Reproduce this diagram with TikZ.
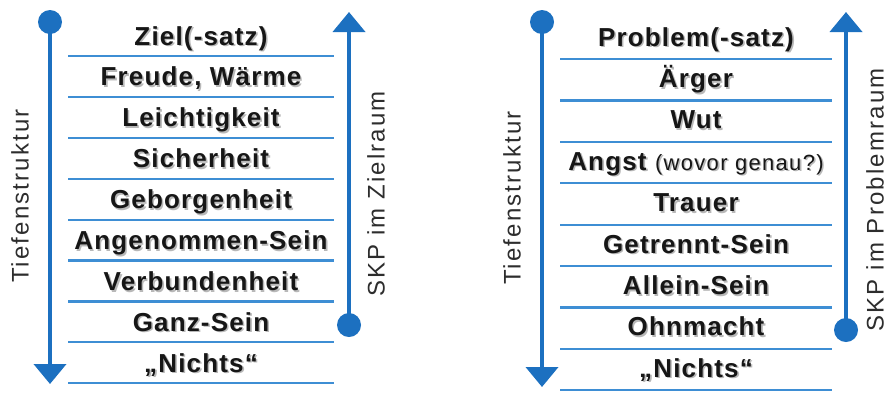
\documentclass[tikz,border=0pt]{standalone}
\usepackage{fontspec}
\setmainfont{Liberation Sans}
\usetikzlibrary{arrows.meta,calc}

\definecolor{axisblue}{RGB}{28,112,192}
\definecolor{ruleblue}{RGB}{62,142,212}
\definecolor{ink}{RGB}{22,22,22}
\definecolor{labelink}{RGB}{45,45,45}

% bold item text, slightly tracked out
\newcommand{\itemfont}{\fontsize{26}{30}\selectfont\bfseries\addfontfeature{LetterSpace=4.5}}
\newcommand{\notefont}{\fontsize{22}{26}\selectfont\mdseries\addfontfeature{LetterSpace=6}}
\newcommand{\sidefont}{\fontsize{24}{28}\selectfont\addfontfeature{LetterSpace=9}}

\tikzset{
  axis/.style={draw=axisblue, line width=4pt,
    -{Triangle[length=20pt,width=32pt]}},
  axisdot/.style={circle, fill=axisblue, inner sep=0pt, minimum size=24pt},
  rule/.style={draw=ruleblue, line width=2.2pt},
  itembox/.style={anchor=base, inner sep=0pt, text=ink, font=\itemfont},
  itemshadow/.style={anchor=base, inner sep=0pt, text=black, opacity=0.28, font=\itemfont},
  sidelabel/.style={rotate=90, inner sep=0pt, text=labelink, font=\sidefont},
}

% an item with a soft drop shadow
\newcommand{\stepitem}[3]{%
  \node[itemshadow] at ($(#2)+(1.6,1.6)$) {#3};
  \node[itembox] (#1) at (#2) {#3};}

\begin{document}
\begin{tikzpicture}[x=1pt,y=-1pt]
\useasboundingbox (0,0) rectangle (888,392);
\fill[white] (0,0) rectangle (888,392);

% ---------- left ladder: goal space ----------
\foreach \k in {0,...,8} {
  \draw[rule] (68,{56+40.9*\k}) -- (334,{56+40.9*\k});
}
\stepitem{z1}{201,45}{Ziel(-satz)}
\stepitem{z2}{201,85.9}{Freude, Wärme}
\stepitem{z3}{201,126.8}{Leichtigkeit}
\stepitem{z4}{201,167.7}{Sicherheit}
\stepitem{z5}{201,208.6}{Geborgenheit}
\stepitem{z6}{201,249.5}{Angenommen-Sein}
\stepitem{z7}{201,290.4}{Verbundenheit}
\stepitem{z8}{201,331.3}{Ganz-Sein}
\stepitem{z9}{201,372.2}{„Nichts“}

\node[axisdot] (ztop) at (50,22) {};
\coordinate (zdeep) at (50,384);
\draw[axis] (ztop.center) -- (zdeep);
\node[axisdot] (zbase) at (349,325) {};
\coordinate (zup) at (349,12);
\draw[axis] (zbase.center) -- (zup);

\node[sidelabel] (zleft) at (20,196) {Tiefenstruktur};
\node[sidelabel] (zright) at (376,194) {SKP im Zielraum};

% ---------- right ladder: problem space ----------
\foreach \k in {0,...,8} {
  \draw[rule] (560,{59+41.4*\k}) -- (832,{59+41.4*\k});
}
\stepitem{p1}{696,46}{Problem(-satz)}
\stepitem{p2}{696,87.4}{Ärger}
\stepitem{p3}{696,128.8}{Wut}
\node[itemshadow] at (697.6,171.8) {Angst {\notefont(wovor genau?)}};
\node[itembox] (p4) at (696,170.2) {Angst {\notefont(wovor genau?)}};
\stepitem{p5}{696,211.6}{Trauer}
\stepitem{p6}{696,253}{Getrennt-Sein}
\stepitem{p7}{696,294.4}{Allein-Sein}
\stepitem{p8}{696,335.8}{Ohnmacht}
\stepitem{p9}{696,377.2}{„Nichts“}

\node[axisdot] (ptop) at (542,22) {};
\coordinate (pdeep) at (542,387);
\draw[axis] (ptop.center) -- (pdeep);
\node[axisdot] (pbase) at (846,330) {};
\coordinate (pup) at (846,12);
\draw[axis] (pbase.center) -- (pup);

\node[sidelabel] (pleft) at (512,198) {Tiefenstruktur};
\node[sidelabel] (pright) at (875,200) {SKP im Problemraum};
\end{tikzpicture}
\end{document}
